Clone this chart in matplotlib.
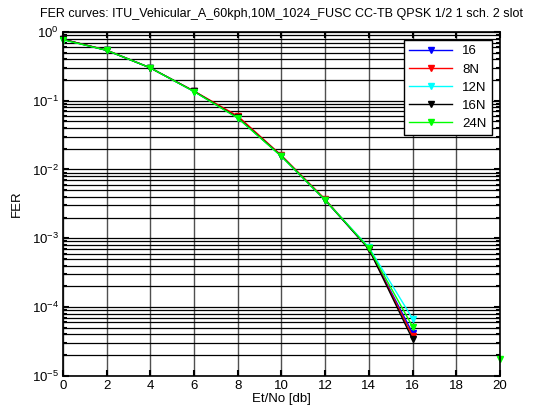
import numpy as np
import matplotlib.pyplot as plt
from matplotlib.ticker import LogLocator, NullFormatter

plt.rcParams['font.family'] = ['Liberation Sans', 'DejaVu Sans']
plt.rcParams['mathtext.fontset'] = 'custom'
plt.rcParams['mathtext.rm'] = 'Liberation Sans'
plt.rcParams['mathtext.it'] = 'Liberation Sans'

# Et/No puntos
ebno = [0, 2, 4, 6, 8, 10, 12, 14, 16, 18, 20]

# FER por caso (0 = sin errores, no se dibuja en escala log)
fer_16 = [0.78, 0.54, 0.30, 0.137, 0.057, 0.0157, 0.0036, 7.0e-4, 4.2e-5, 0, 0]
fer_8N = [0.78, 0.545, 0.30, 0.138, 0.060, 0.0160, 0.0037, 7.0e-4, 3.8e-5, 0, 0]
fer_12N = [0.77, 0.54, 0.30, 0.136, 0.056, 0.0155, 0.0036, 7.4e-4, 6.8e-5, 0, 0]
fer_16N = [0.78, 0.54, 0.30, 0.137, 0.057, 0.0157, 0.0036, 7.0e-4, 3.4e-5, 0, 0]
fer_24N = [0.77, 0.54, 0.30, 0.136, 0.056, 0.0155, 0.0036, 7.2e-4, 5.2e-5, 0, 1.75e-5]

etiquetas = ['16', '8N', '12N', '16N', '24N']
colores = ['#0000ff', '#ff0000', '#00ffff', '#000000', '#00ff00']
series = [fer_16, fer_8N, fer_12N, fer_16N, fer_24N]

fig = plt.figure(figsize=(5.33, 4.09), dpi=100)
ax = fig.add_axes([0.118, 0.081, 0.820, 0.841])

for fer, c, lab in zip(series, colores, etiquetas):
    y = np.array(fer, dtype=float)
    y[y <= 0] = np.nan
    ax.plot(ebno, y, color=c, linewidth=1, marker='v', markersize=5,
            markeredgecolor=c, markerfacecolor=c, label=lab, clip_on=False)

ax.set_yscale('log')
ax.set_xlim(0, 20)
ax.set_ylim(1e-5, 1)
ax.set_xticks(range(0, 21, 2))
ax.yaxis.set_major_locator(LogLocator(base=10, numticks=10))
ax.yaxis.set_minor_locator(LogLocator(base=10, subs=np.arange(2, 10), numticks=20))
ax.yaxis.set_minor_formatter(NullFormatter())

# cuadrícula estilo MATLAB
ax.grid(True, which='major', axis='x', color='#505050', linestyle='-', linewidth=1)
ax.grid(True, which='both', axis='y', color='black', linestyle='-', linewidth=0.9)
ax.set_axisbelow(True)

ax.tick_params(which='both', direction='in', top=True, right=True, width=1.5,
               labelsize=9.5, pad=3)
ax.tick_params(which='major', length=4)
ax.tick_params(which='minor', length=3)
for s in ax.spines.values():
    s.set_linewidth(1.2)

ax.set_title('FER curves: ITU_Vehicular_A_60kph,10M_1024_FUSC CC-TB QPSK 1/2 1 sch. 2 slot',
             fontsize=9, pad=11)
ax.set_xlabel('Et/No [db]', fontsize=9.5, labelpad=1)
ax.set_ylabel('FER', fontsize=9.5, labelpad=6)

leg = ax.legend(loc='upper right', fontsize=9.5, fancybox=False, framealpha=1,
                edgecolor='black', borderaxespad=0.6, handlelength=3.2,
                labelspacing=0.45)
leg.get_frame().set_linewidth(1)

fig.savefig('out.png', dpi=100)
